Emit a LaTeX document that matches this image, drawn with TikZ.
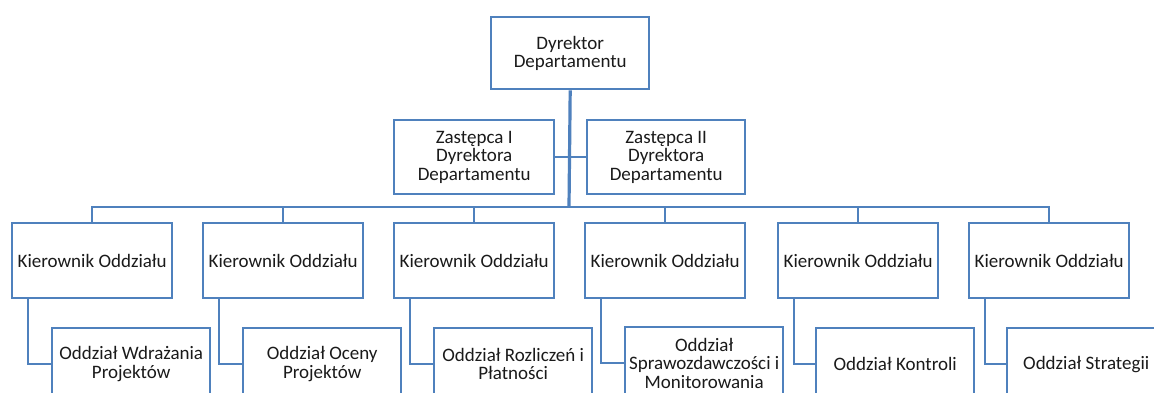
\documentclass[tikz,border=0pt]{standalone}
\usepackage{fontspec}
\setmainfont{Carlito}
\definecolor{orgblue}{HTML}{4F81BD}
\definecolor{txt}{HTML}{1A1A1A}
\tikzset{
  box/.style={draw=orgblue, line width=2.4pt, fill=white, anchor=north west, inner sep=2pt,
    align=center, text=txt, font=\fontsize{19}{18.5}\selectfont},
  kbox/.style={box, minimum width=160pt, minimum height=75pt},
  cbox/.style={box, minimum width=158pt, minimum height=72pt},
  conn/.style={draw=orgblue, line width=2.4pt},
  mainconn/.style={draw=orgblue, line width=3.2pt}
}
\begin{document}
\begin{tikzpicture}[x=1pt,y=-1pt]
\clip (0,0) rectangle (1154,392);
\fill[white] (0,0) rectangle (1154,392);
\node[box, minimum width=158pt, minimum height=72pt] (top) at (490,16) {Dyrektor\\Departamentu};
\node[box, minimum width=160pt, minimum height=74pt] (z1) at (393,119) {Zastępca I\\Dyrektora\\Departamentu};
\node[box, minimum width=158pt, minimum height=74pt] (z2) at (586,119) {Zastępca II\\Dyrektora\\Departamentu};
\node[kbox] (k1) at (11,222) {Kierownik Oddziału};
\node[kbox] (k2) at (202,222) {Kierownik Oddziału};
\node[kbox] (k3) at (393,222) {Kierownik Oddziału};
\node[kbox] (k4) at (584,222) {Kierownik Oddziału};
\node[kbox] (k5) at (777,222) {Kierownik Oddziału};
\node[kbox] (k6) at (968,222) {Kierownik Oddziału};
\node[cbox] (c1) at (51,327) {Oddział Wdrażania\\Projektów};
\node[cbox] (c2) at (242,327) {Oddział Oceny\\Projektów};
\node[cbox] (c3) at (433,327) {Oddział Rozliczeń i\\Płatności};
\node[cbox] (c4) at (624,326) {Oddział\\Sprawozdawczości i\\Monitorowania};
\node[cbox] (c5) at (815,327) {Oddział Kontroli};
\node[cbox] (c6) at (1006,327) {Oddział Strategii};
\coordinate (bus) at (569,207);
\draw[mainconn] (top.south) -- (bus);
\draw[conn] (z1.east) -- (z2.west);
\foreach \i in {1,...,6} {
  \draw[conn] (bus) -| (k\i.north);
  \draw[conn] ([xshift=17pt]k\i.south west) |- (c\i.west);
}
\end{tikzpicture}
\end{document}
